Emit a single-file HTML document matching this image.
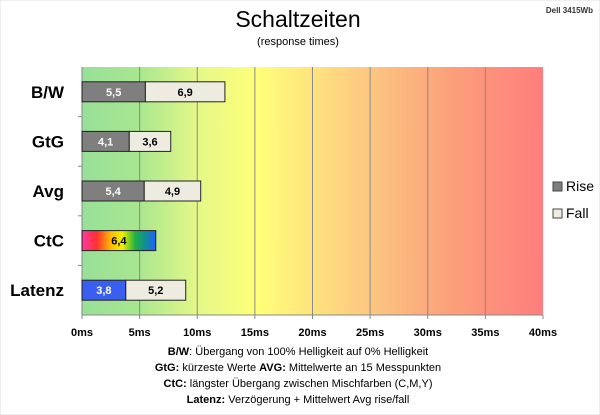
<!DOCTYPE html>
<html><head><meta charset="utf-8"><style>
body{margin:0;background:#fff;font-family:"Liberation Sans",sans-serif}
svg{display:block}
</style></head><body>
<svg width="600" height="415" viewBox="0 0 600 415">
<defs>
<linearGradient id="bg" x1="0" x2="1" y1="0" y2="0">
<stop offset="0" stop-color="#98e098"/>
<stop offset="0.12" stop-color="#a8e690"/>
<stop offset="0.25" stop-color="#e4f888"/>
<stop offset="0.38" stop-color="#ffff78"/>
<stop offset="0.6" stop-color="#fdcc82"/>
<stop offset="0.8" stop-color="#fba07a"/>
<stop offset="1" stop-color="#ff7d7d"/>
</linearGradient>
<linearGradient id="rainbow" x1="0" x2="1" y1="0" y2="0">
<stop offset="0" stop-color="#ff3aa0"/>
<stop offset="0.2" stop-color="#ff3030"/>
<stop offset="0.4" stop-color="#ffc000"/>
<stop offset="0.55" stop-color="#f0f000"/>
<stop offset="0.72" stop-color="#20b040"/>
<stop offset="0.85" stop-color="#109090"/>
<stop offset="1" stop-color="#2060ff"/>
</linearGradient>
</defs>
<rect x="0" y="0" width="600" height="415" fill="#fff" stroke="#ddd"/>
<text x="298" y="27" text-anchor="middle" font-size="23" fill="#000">Schaltzeiten</text>
<text x="298" y="45" text-anchor="middle" font-size="11" fill="#000">(response times)</text>
<text x="593" y="13" text-anchor="end" font-size="8" font-weight="bold" fill="#333">Dell 3415Wb</text>
<rect x="82" y="67" width="461" height="248" fill="url(#bg)"/>
<g id="grid"></g>
<g id="bars"></g>
<g id="labels"></g>
<g>
<rect x="553" y="182" width="9" height="9" fill="#7f7f7f" stroke="#444"/>
<text x="566" y="191" font-size="14">Rise</text>
<rect x="553" y="209" width="9" height="9" fill="#eeece1" stroke="#444"/>
<text x="566" y="218" font-size="14">Fall</text>
</g>
<g font-size="11" text-anchor="middle" fill="#000">
<text x="298" y="355"><tspan font-weight="bold">B/W</tspan>:  Übergang von 100% Helligkeit auf 0% Helligkeit</text>
<text x="298" y="371"><tspan font-weight="bold">GtG:</tspan> kürzeste Werte      <tspan font-weight="bold">AVG:</tspan> Mittelwerte an 15 Messpunkten</text>
<text x="298" y="387"><tspan font-weight="bold">CtC:</tspan> längster Übergang zwischen Mischfarben (C,M,Y)</text>
<text x="298" y="403"><tspan font-weight="bold">Latenz:</tspan> Verzögerung + Mittelwert Avg rise/fall</text>
</g>
</svg>
<script>
const categories=["B/W","GtG","Avg","CtC","Latenz"];
const riseValues=[5.5,4.1,5.4,6.4,3.8];
const fallValues=[6.9,3.6,4.9,0,5.2];
const tickValues=[0,5,10,15,20,25,30,35,40];
const NS="http://www.w3.org/2000/svg";
const X0=82,X1=543,Y0=67,Y1=315,XMAX=40;
const xs=v=>X0+(v/XMAX)*(X1-X0);
const band=(Y1-Y0)/categories.length;
const fmt=v=>String(v).replace('.',',');
function mk(t,a,p){const e=document.createElementNS(NS,t);for(const k in a)e.setAttribute(k,a[k]);p.appendChild(e);return e;}
const grid=document.getElementById('grid'),bars=document.getElementById('bars'),labels=document.getElementById('labels');
tickValues.forEach((v,i)=>{
  if(v>0&&v<XMAX){const l=mk('line',{x1:xs(v),x2:xs(v),y1:Y0,y2:Y1,stroke:'#8a8a8a','stroke-width':1},grid);
  
  }
  const tk=mk('line',{x1:xs(v),x2:xs(v),y1:Y1,y2:Y1+4,stroke:'#888'},grid);
  
  
  const t=mk('text',{x:xs(v),y:336,'text-anchor':'middle','font-size':11,'font-weight':'bold'},labels);
  t.textContent=v+'ms';
  
  
});
const ax=mk('line',{x1:X0,x2:X0,y1:Y0,y2:Y1,stroke:'#888'},grid);


const bx=mk('line',{x1:X0,x2:X1,y1:Y1,y2:Y1,stroke:'#888'},grid);


categories.forEach((c,i)=>{
  const cy=Y0+band*(i+0.5);
  if(i>0){const t=mk('line',{x1:X0-4,x2:X0,y1:Y0+band*i,y2:Y0+band*i,stroke:'#888'},grid);
  
  }
  const lb=mk('text',{x:64,y:cy+6,'text-anchor':'end','font-size':17,'font-weight':'bold'},labels);
  lb.textContent=c;
  
  
  const h=20,y=cy-10;
  let fillR='#7f7f7f',tc='#fff';
  if(c==='CtC'){fillR='url(#rainbow)';tc='#000';}
  if(c==='Latenz'){fillR='#3a5ff0';}
  const r=mk('rect',{x:xs(0),y:y,width:xs(riseValues[i])-xs(0),height:h,fill:fillR,stroke:'#222','stroke-width':1},bars);
  
  
  const rt=mk('text',{x:(xs(0)+xs(riseValues[i]))/2,y:cy+4,'text-anchor':'middle','font-size':11,'font-weight':'bold',fill:tc},labels);
  rt.textContent=fmt(riseValues[i]);
  
  
  if(fallValues[i]>0){
    const a=riseValues[i],b=a+fallValues[i];
    const f=mk('rect',{x:xs(a),y:y,width:xs(b)-xs(a),height:h,fill:'#eeece1',stroke:'#222','stroke-width':1},bars);
    
    
    const ft=mk('text',{x:(xs(a)+xs(b))/2,y:cy+4,'text-anchor':'middle','font-size':11,'font-weight':'bold',fill:'#000'},labels);
    ft.textContent=fmt(fallValues[i]);
    
    
  }
});
</script>
</body></html>
